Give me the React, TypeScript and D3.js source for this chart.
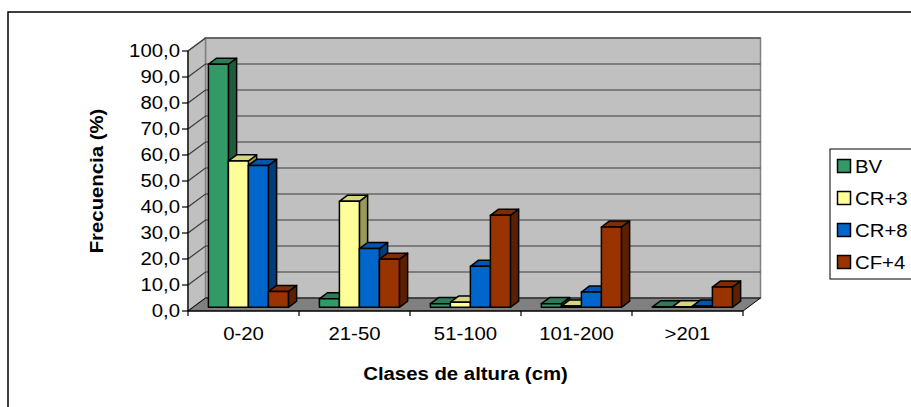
import React from "react";
import * as d3 from "d3";

// Height classes and series (frequency in %)
const categories = ["0-20", "21-50", "51-100", "101-200", ">201"];
const seriesNames = ["BV", "CR+3", "CR+8", "CF+4"];
const bv = [93.5, 3.3, 1.4, 1.4, 0.2];
const cr3 = [56.3, 40.8, 2.0, 0.5, 0.2];
const cr8 = [54.6, 22.6, 15.8, 5.9, 0.5];
const cf4 = [6.1, 18.5, 35.4, 30.9, 7.8];
const yTicks = [0, 10, 20, 30, 40, 50, 60, 70, 80, 90, 100];

const seriesValues = [bv, cr3, cr8, cf4];
const palette = [
  { front: "#339966", top: "#2a7d54", side: "#1f5c3d" },
  { front: "#ffff99", top: "#d6d680", side: "#99995c" },
  { front: "#0066cc", top: "#0056ad", side: "#003d7a" },
  { front: "#993300", top: "#822b00", side: "#5c1f00" },
];

const W = 911;
const H = 407;
const X0 = 188;
const X1 = 743;
const Y0 = 311;
const Y1 = 51;
const DX = 17.5; // depth offset of the back wall
const DY = -13;
const ZF = 0.28; // bar front depth (fraction)
const ZB = 0.75; // bar back depth
const FONT = "'Liberation Sans', Arial, sans-serif";
const STRETCH = 1.1; // text is drawn slightly widened

const fmt = (v: number) => d3.format(".1f")(v).replace(".", ",");

type LabelProps = {
  x: number;
  y: number;
  anchor?: "start" | "middle" | "end";
  size: number;
  bold?: boolean;
  rotate?: number;
  dy?: string;
  children: React.ReactNode;
};

function Label({ x, y, anchor = "start", size, bold, rotate = 0, dy, children }: LabelProps) {
  return (
    <text
      transform={`translate(${x},${y}) rotate(${rotate}) scale(${STRETCH},1)`}
      textAnchor={anchor}
      fontSize={size}
      fontWeight={bold ? "bold" : "normal"}
      dy={dy}
      fill="#000"
    >
      {children}
    </text>
  );
}

export default function App() {
  const x = d3.scaleBand<string>().domain(categories).range([X0, X1]).paddingInner(0).paddingOuter(0);
  const xs = d3
    .scaleBand<string>()
    .domain(seriesNames)
    .range([0, x.bandwidth()])
    .paddingInner(0)
    .paddingOuter(0.775);
  const y = d3.scaleLinear().domain([0, 100]).range([Y0, Y1]);

  const pt = (px: number, v: number, z: number) => [px + z * DX, y(v) + z * DY] as [number, number];
  const poly = (pts: [number, number][]) => pts.map((p) => p.join(",")).join(" ");

  const wallTop = y(100) + DY;
  const wallBottom = y(0) + DY;

  const bars: React.ReactNode[] = [];
  categories.forEach((c, ci) => {
    seriesNames.forEach((s, si) => {
      const v = seriesValues[si][ci];
      const l = (x(c) as number) + (xs(s) as number);
      const r = l + xs.bandwidth();
      const col = palette[si];
      const front = poly([pt(l, 0, ZF), pt(r, 0, ZF), pt(r, v, ZF), pt(l, v, ZF)]);
      const side = poly([pt(r, 0, ZF), pt(r, 0, ZB), pt(r, v, ZB), pt(r, v, ZF)]);
      const top = poly([pt(l, v, ZF), pt(r, v, ZF), pt(r, v, ZB), pt(l, v, ZB)]);
      bars.push(
        <g key={`${c}-${s}`} stroke="#000" strokeWidth={1.5} strokeLinejoin="round">
          <polygon points={side} fill={col.side} />
          <polygon points={top} fill={col.top} />
          <polygon points={front} fill={col.front} />
        </g>
      );
    });
  });

  return (
    <svg
      width={W}
      height={H}
      style={{ position: "absolute", left: 0, top: 0, background: "#fff" }}
      fontFamily={FONT}
    >
      {/* chart frame */}
      <rect x={8} y={12} width={W + 10} height={H + 10} fill="#fff" stroke="#000" strokeWidth={1.5} />

      {/* walls and floor */}
      <polygon
        points={poly([[X0 + DX, wallTop], [X1 + DX, wallTop], [X1 + DX, wallBottom], [X0 + DX, wallBottom]])}
        fill="#c0c0c0"
        stroke="#808080"
        strokeWidth={1.5}
      />
      <polygon
        points={poly([[X0, y(100)], [X0 + DX, wallTop], [X0 + DX, wallBottom], [X0, y(0)]])}
        fill="#c0c0c0"
        stroke="#808080"
        strokeWidth={1.5}
      />
      <polygon
        points={poly([[X0, y(0)], [X0 + DX, wallBottom], [X1 + DX, wallBottom], [X1, y(0)]])}
        fill="#808080"
        stroke="#000"
        strokeWidth={1}
      />

      {/* gridlines on the side and back walls */}
      <g stroke="#3a3a3a" strokeWidth={1.2} fill="none">
        {yTicks.slice(1).map((t) => (
          <polyline
            key={t}
            points={poly([[X0, y(t)], [X0 + DX, y(t) + DY], [X1 + DX, y(t) + DY]])}
          />
        ))}
      </g>

      {/* value axis */}
      <line x1={X0} x2={X0} y1={y(100)} y2={y(0)} stroke="#000" strokeWidth={1.2} />
      {yTicks.map((t) => (
        <g key={t}>
          <line x1={X0 - 6} x2={X0} y1={y(t)} y2={y(t)} stroke="#000" strokeWidth={1.2} />
          <Label x={X0 - 8} y={y(t)} dy="0.35em" anchor="end" size={18.5}>
            {fmt(t)}
          </Label>
        </g>
      ))}

      {/* category axis */}
      <line x1={X0} x2={X1} y1={y(0)} y2={y(0)} stroke="#000" strokeWidth={1.2} />
      {categories.map((c) => (
        <line
          key={c}
          x1={x(c) as number}
          x2={x(c) as number}
          y1={y(0)}
          y2={y(0) + 5}
          stroke="#000"
          strokeWidth={1.2}
        />
      ))}
      <line x1={X1} x2={X1} y1={y(0)} y2={y(0) + 5} stroke="#000" strokeWidth={1.2} />
      {categories.map((c) => (
        <Label key={c} x={(x(c) as number) + x.bandwidth() / 2} y={340} anchor="middle" size={18.5}>
          {c}
        </Label>
      ))}

      {/* bars */}
      {bars}

      {/* axis titles */}
      <Label x={(X0 + X1) / 2} y={380} anchor="middle" size={18.5} bold>
        Clases de altura (cm)
      </Label>
      <Label x={103} y={(y(0) + y(100)) / 2} anchor="middle" size={18.5} bold rotate={-90}>
        Frecuencia (%)
      </Label>

      {/* legend */}
      <rect x={830} y={149} width={100} height={130} fill="#fff" stroke="#000" strokeWidth={1} />
      {seriesNames.map((s, i) => {
        const cy = 166 + i * 32;
        return (
          <g key={s}>
            <rect
              x={837.5}
              y={cy - 6.5}
              width={13}
              height={13}
              fill={palette[i].front}
              stroke="#000"
              strokeWidth={1.5}
            />
            <Label x={855} y={cy} dy="0.36em" size={18.5}>
              {s}
            </Label>
          </g>
        );
      })}
    </svg>
  );
}
